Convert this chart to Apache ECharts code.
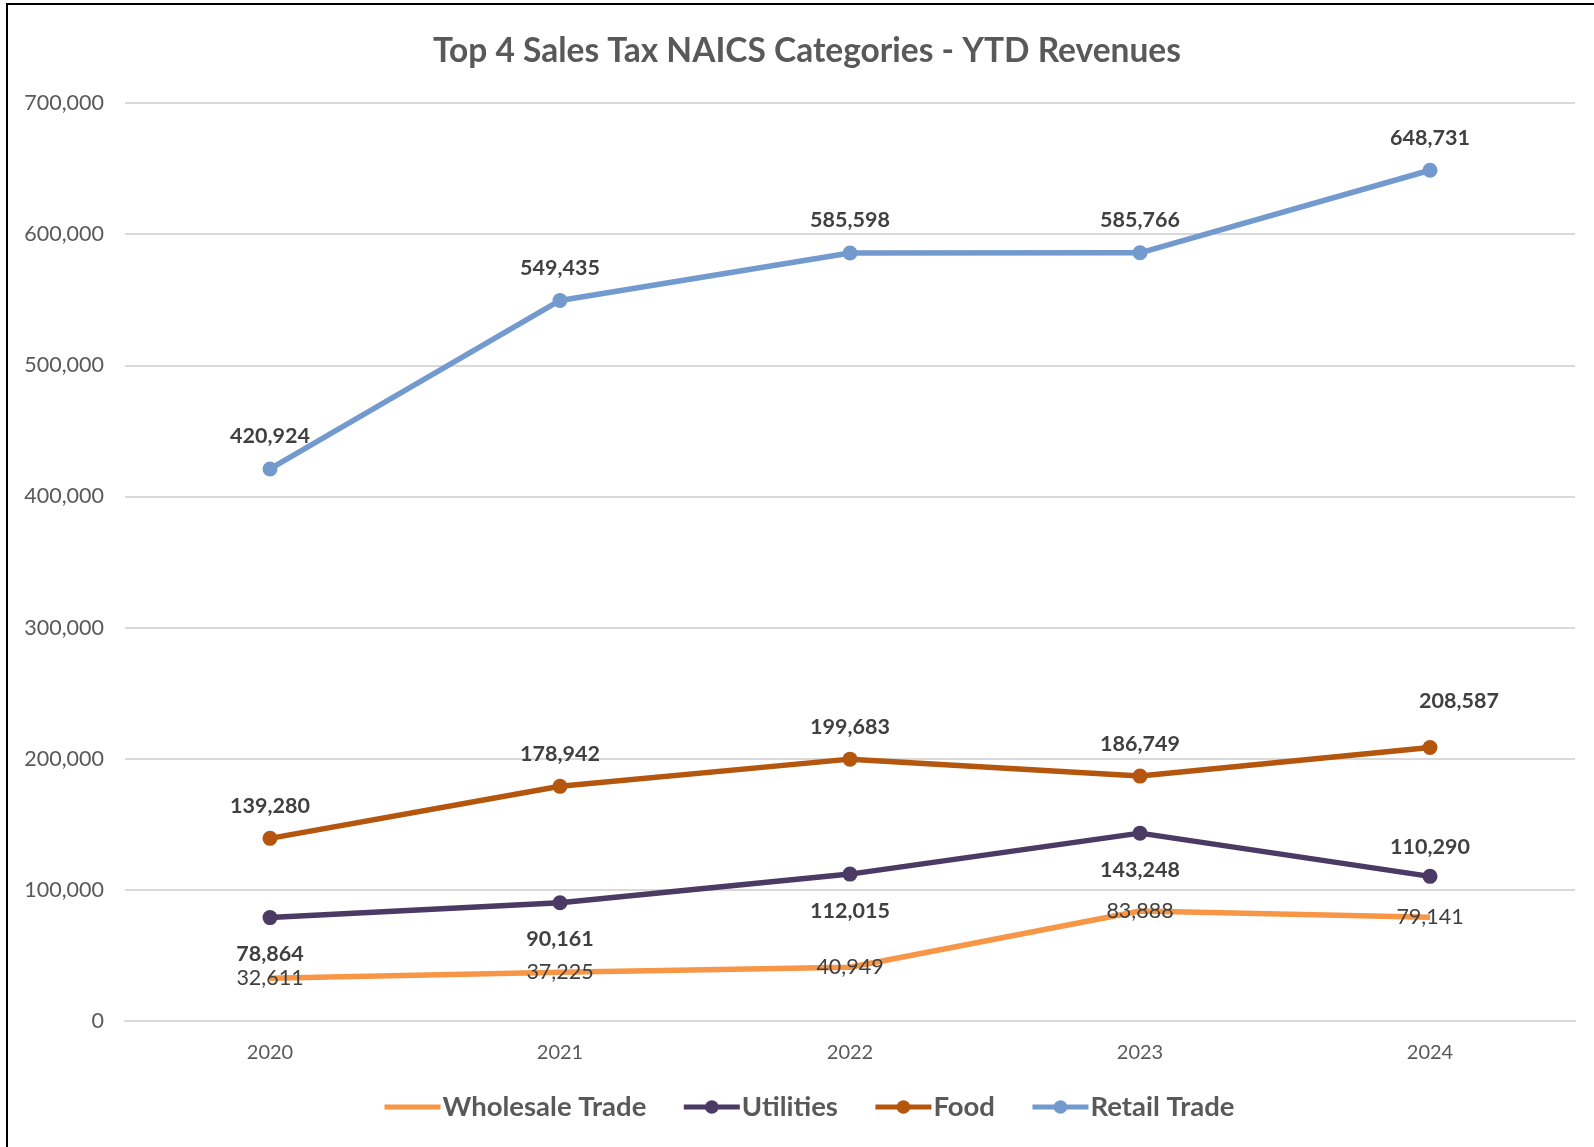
<!DOCTYPE html>
<html>
<head>
<meta charset="utf-8">
<script src="https://cdn.jsdelivr.net/npm/echarts@6/dist/echarts.min.js"></script>
<style>
html,body{margin:0;padding:0;background:#fff;}
#chart{position:absolute;left:0;top:0;width:1594px;height:1147px;}
#frame{position:absolute;left:6px;top:3px;width:1700px;height:1300px;border-left:2px solid #000;border-top:2px solid #000;pointer-events:none;}
</style>
</head>
<body>
<div id="chart"></div>
<div id="frame"></div>
<script>
const categories = ['2020', '2021', '2022', '2023', '2024'];
const wholesaleTrade = [32611, 37225, 40949, 83888, 79141];
const utilities = [78864, 90161, 112015, 143248, 110290];
const food = [139280, 178942, 199683, 186749, 208587];
const retailTrade = [420924, 549435, 585598, 585766, 648731];
const yTicks = [0, 100000, 200000, 300000, 400000, 500000, 600000, 700000];

const FONT = 'Lato';
const fmt = v => v.toLocaleString('en-US');
const lblBold = {show: true, fontFamily: FONT, fontSize: 21.5, fontWeight: 'bold', color: '#404040', distance: 14, formatter: p => fmt(p.value)};

const utilData = utilities.map((v, i) => i === utilities.length - 1 ? {value: v, label: {position: 'top', distance: 11}} : v);
const foodData = food.map((v, i) => i === food.length - 1 ? {value: v, label: {offset: [29, -14]}} : v);

const chart = echarts.init(document.getElementById('chart'));
chart.setOption({
  animation: false,
  backgroundColor: '#fff',
  title: {
    text: 'Top 4 Sales Tax NAICS Categories - YTD Revenues',
    left: 802, top: 29, textAlign: 'center',
    textStyle: {fontFamily: FONT, fontSize: 33.5, fontWeight: 'bold', color: '#595959'}
  },
  legend: {
    bottom: 21, left: 377,
    itemWidth: 56, itemHeight: 17, itemGap: 35,
    lineStyle: {width: 5},
    textStyle: {fontFamily: FONT, fontSize: 27.5, fontWeight: 'bold', color: '#595959', padding: [0, 0, 0, -3]},
    data: [{name: 'Wholesale Trade', itemStyle: {opacity: 0}}, 'Utilities', 'Food', 'Retail Trade']
  },
  grid: {left: 125, right: 19, top: 103, bottom: 126},
  xAxis: {
    type: 'category', data: categories, boundaryGap: true,
    axisLine: {lineStyle: {color: '#d9d9d9', width: 2}},
    axisTick: {show: false},
    axisLabel: {fontFamily: FONT, fontSize: 20, color: '#595959', margin: 22}
  },
  yAxis: {
    type: 'value', min: yTicks[0], max: yTicks[yTicks.length - 1], interval: yTicks[1] - yTicks[0],
    axisLine: {show: false}, axisTick: {show: false},
    axisLabel: {fontFamily: FONT, fontSize: 21.5, color: '#595959', margin: 21, formatter: v => fmt(v)},
    splitLine: {lineStyle: {color: '#d9d9d9', width: 2}}
  },
  series: [
    {name: 'Wholesale Trade', type: 'line', data: wholesaleTrade, symbol: 'circle', symbolSize: 1, showSymbol: true,
     lineStyle: {width: 5.5, color: '#F79646'}, itemStyle: {color: '#F79646'},
     label: {show: true, position: 'inside', fontFamily: FONT, fontSize: 21.5, color: '#404040', formatter: p => fmt(p.value)}},
    {name: 'Utilities', type: 'line', data: utilData, symbol: 'circle', symbolSize: 15,
     lineStyle: {width: 5.5, color: '#4B3A64'}, itemStyle: {color: '#4B3A64'},
     label: Object.assign({}, lblBold, {position: 'bottom', distance: 18})},
    {name: 'Food', type: 'line', data: foodData, symbol: 'circle', symbolSize: 15,
     lineStyle: {width: 5.5, color: '#B5560E'}, itemStyle: {color: '#B5560E'},
     label: Object.assign({}, lblBold, {position: 'top'})},
    {name: 'Retail Trade', type: 'line', data: retailTrade, symbol: 'circle', symbolSize: 15,
     lineStyle: {width: 5.5, color: '#729ACF'}, itemStyle: {color: '#729ACF'},
     label: Object.assign({}, lblBold, {position: 'top'})}
  ]
});
</script>
</body>
</html>
